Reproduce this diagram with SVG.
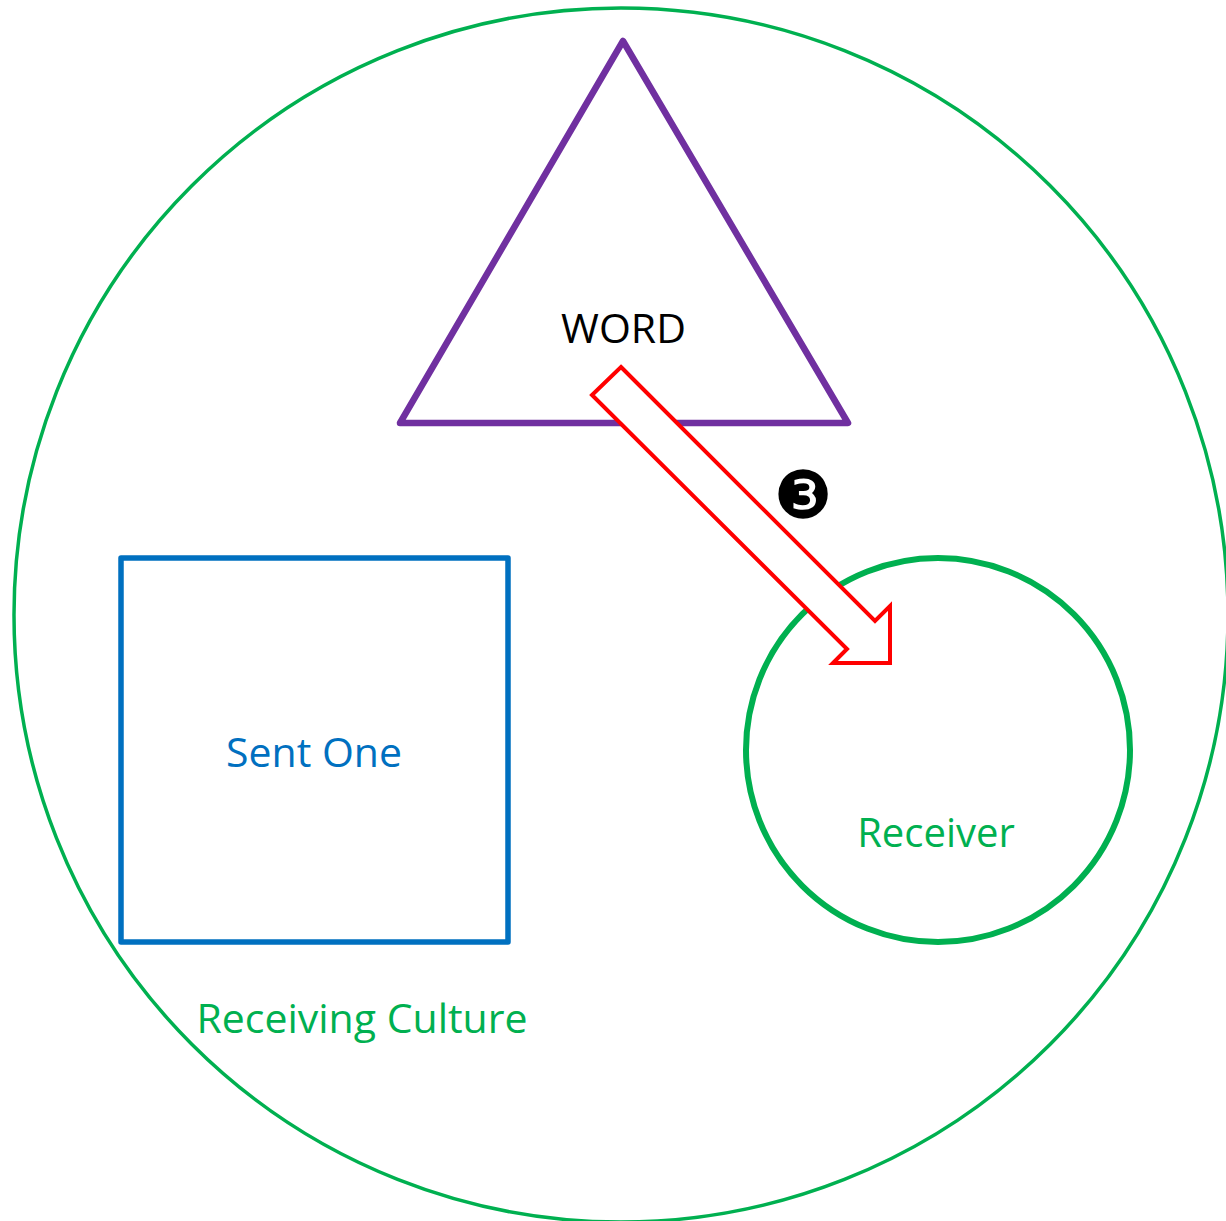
<svg xmlns="http://www.w3.org/2000/svg" width="1226" height="1221" viewBox="0 0 1226 1221">
<style>
.lbl{font-family:"Open Sans","Noto Sans","Liberation Sans",sans-serif;text-anchor:middle}
.g{fill:#00B050}
</style>
<rect width="1226" height="1221" fill="#fff"/>
<g id="culture">
<ellipse cx="621" cy="615" rx="607" ry="607" fill="none" stroke="#00B050" stroke-width="3.5"/>
<text class="lbl g" x="362" y="1033" font-size="41">Receiving Culture</text>
</g>
<g id="word">
<polygon points="623,41 848,423 400,423" fill="none" stroke="#7030A0" stroke-width="6.5" stroke-linejoin="round"/>
<text class="lbl" x="623.5" y="343" font-size="41" fill="#000">WORD</text>
</g>
<g id="sentone">
<rect x="121" y="558" width="387" height="384" fill="none" stroke="#0070C0" stroke-width="5.5" stroke-linejoin="round"/>
<text class="lbl" x="314" y="767" font-size="41" fill="#0070C0">Sent One</text>
</g>
<g id="receiver">
<circle cx="938" cy="750" r="192" fill="none" stroke="#00B050" stroke-width="6"/>
<text class="lbl g" x="936" y="847" font-size="40">Receiver</text>
</g>
<g id="connectors">
<polygon points="621,367 875,621 890,606 890,663 833,663 847,649 592,395" fill="#fff" stroke="#FF0000" stroke-width="4" stroke-linejoin="miter"/>
<text x="803" y="518" font-family="DejaVu Sans,sans-serif" font-size="66" text-anchor="middle" fill="#000">❸</text>
</g>
</svg>
